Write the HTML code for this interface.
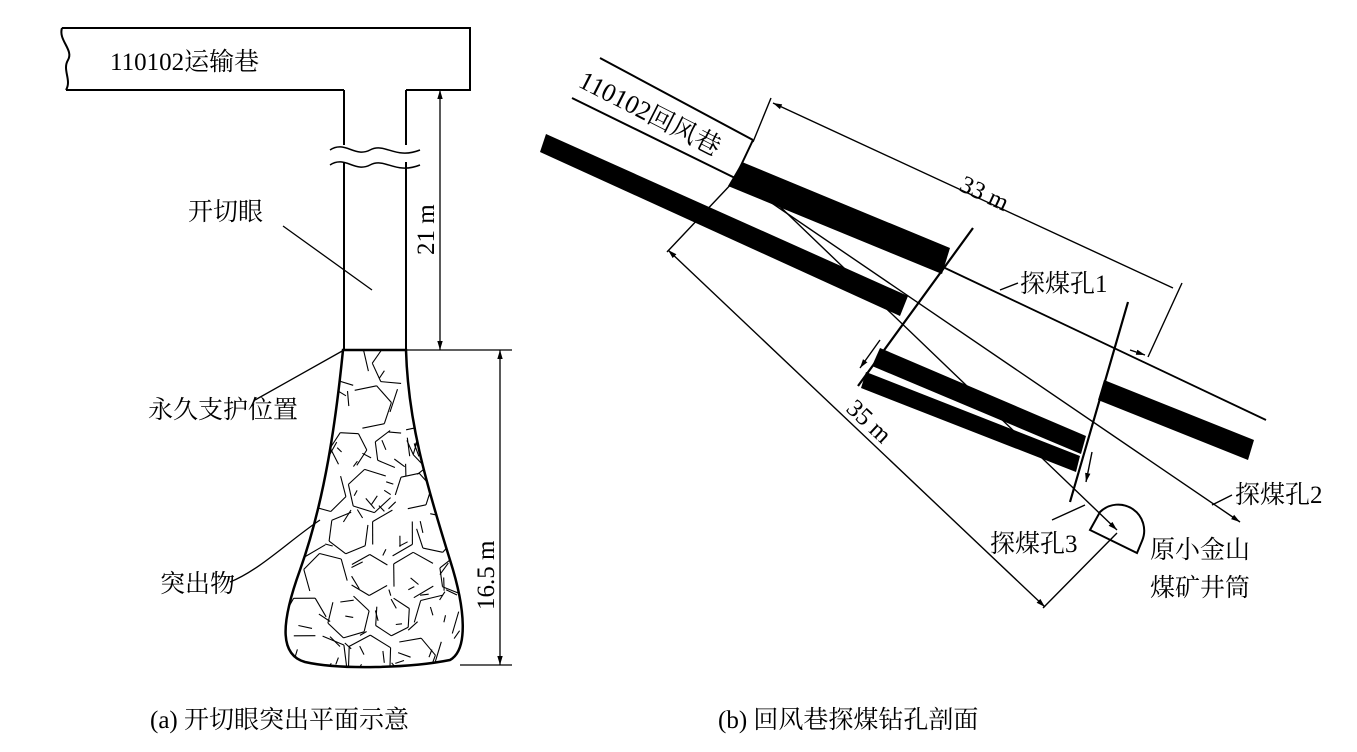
<!DOCTYPE html>
<html><head><meta charset="utf-8"><style>
body{margin:0;background:#fff}
svg text{font-family:"Liberation Serif","Noto Serif CJK SC","Noto Sans CJK SC",serif;font-size:25px;fill:#000}
</style></head><body>
<svg id="s" width="1357" height="747" viewBox="0 0 1357 747" xmlns="http://www.w3.org/2000/svg">
<defs>
<marker id="a" viewBox="0 0 10 10" refX="10" refY="5" markerWidth="9" markerHeight="9" orient="auto-start-reverse" markerUnits="userSpaceOnUse"><path d="M0,2 L10,5 L0,8 z" fill="#000"/></marker>
<clipPath id="fc"><path id="fp" d="M343,350 C336,420 325,500 300,570 C280,625 280,655 305,662 C340,670 410,668 450,660 C468,650 466,610 450,560 C425,480 408,420 406,350 Z"/></clipPath>
</defs>
<g fill="none" stroke="#000" stroke-width="2">
<path d="M62,28 L470,28 L470,90 L406,90 M344,90 L66,90"/>
<path d="M62,28 C58,40 74,50 68,60 C62,70 72,80 66,90"/>
<path d="M344,90 L344,145 M406,90 L406,145 M344,162 L344,350 M406,162 L406,350"/>
<path d="M330,150 C345,140 355,158 370,150 C385,142 395,160 420,150 M330,165 C345,155 355,173 370,165 C385,157 395,175 420,165" stroke-width="1.5"/>
<use href="#fp" stroke-width="2.5"/>
<g id="cr" clip-path="url(#fc)" stroke-width="1.1"></g>
<g stroke-width="1.3">
<path d="M440,90 L440,350" marker-start="url(#a)" marker-end="url(#a)"/>
<path d="M406,350 L512,350 M460,665 L512,665"/>
<path d="M500,350 L500,665" marker-start="url(#a)" marker-end="url(#a)"/>
<path d="M283,226 L372,290 M255,400 L344,350 M230,582 C260,570 290,540 320,520"/>
</g>
<path d="M600,58 L753,140 M572,98 L735,178 M753,140 L735,178" stroke-width="2"/>
<path d="M742,162 L950,248 L942,274 L728,186 Z" fill="#000" stroke="none"/>
<path d="M546,134 L908,296 L900,316 L540,152 Z" fill="#000" stroke="none"/>
<path d="M880,348 L1086,436 L1081,454 L872,366 Z" fill="#000" stroke="none"/>
<path d="M866,372 L1080,456 L1076,472 L861,388 Z" fill="#000" stroke="none"/>
<path d="M1104,380 L1254,440 L1248,460 L1098,400 Z" fill="#000" stroke="none"/>
<path d="M945,268 L1266,420" stroke-width="1.8"/>
<path d="M973,228 L858,386 M1128,302 L1070,502" stroke-width="2.2"/>
<g stroke-width="1.4">
<path d="M880,340 L860,368" marker-end="url(#a)"/>
<path d="M1092,452 L1086,482" marker-end="url(#a)"/>
<path d="M757,193 L1240,522" marker-end="url(#a)"/>
<path d="M770,197 L1117,530" marker-end="url(#a)"/>
<path d="M771,98 L753,142 M1182,283 L1148,357"/>
<path d="M773,103 L1173,288" marker-start="url(#a)"/>
<path d="M1130,350 L1145,355" marker-end="url(#a)"/>
<path d="M735,180 L667,252 M1117,533 L1043,608"/>
<path d="M668,250 L1045,607" marker-start="url(#a)" marker-end="url(#a)"/>
<path d="M1000,290 L1018,283 M1212,505 L1232,495 M1052,520 L1085,505"/>
</g>
<path d="M1100,512 L1090,530 L1137,553 L1142,541 A26,26 0 0 0 1100,512 Z" stroke-width="2"/>
</g>
<text x="110" y="70">110102运输巷</text>
<text x="188" y="220">开切眼</text>
<text x="148" y="418">永久支护位置</text>
<text x="160" y="592">突出物</text>
<text transform="translate(434,255) rotate(-90)">21 m</text>
<text transform="translate(494,610) rotate(-90)">16.5 m</text>
<text x="150" y="728">(a) 开切眼突出平面示意</text>
<text x="718" y="728">(b) 回风巷探煤钻孔剖面</text>
<text transform="translate(577,86) rotate(27)" style="font-size:26px">110102回风巷</text>
<text transform="translate(958,190) rotate(25)">33 m</text>
<text transform="translate(845,410) rotate(43)">35 m</text>
<text x="1020" y="292">探煤孔1</text>
<text x="1235" y="503">探煤孔2</text>
<text x="990" y="552">探煤孔3</text>
<text x="1150" y="558">原小金山</text>
<text x="1150" y="596">煤矿井筒</text>
</svg>
<script>
(function(){var g=document.getElementById('cr');var seed=11;function r(){seed=(seed*16807)%2147483647;return seed/2147483647;}
var s='';
for(var cy=365;cy<680;cy+=42){for(var cx=290+((cy/42)%2)*21;cx<470;cx+=44){
var R=18+r()*6,n=6,o=r();for(var k=0;k<n;k++){if(r()<0.3)continue;var a1=(k+o)/n*2*Math.PI,a2=(k+1+o)/n*2*Math.PI;
s+='<line x1="'+(cx+R*Math.cos(a1)).toFixed(1)+'" y1="'+(cy+R*Math.sin(a1)).toFixed(1)+'" x2="'+(cx+R*Math.cos(a2)).toFixed(1)+'" y2="'+(cy+R*Math.sin(a2)).toFixed(1)+'" stroke="#000"/>';}}}
for(var i=0;i<90;i++){var x=285+r()*185,y=350+r()*320,a=r()*Math.PI,l=6+r()*10;
s+='<line x1="'+x.toFixed(1)+'" y1="'+y.toFixed(1)+'" x2="'+(x+Math.cos(a)*l).toFixed(1)+'" y2="'+(y+Math.sin(a)*l).toFixed(1)+'" stroke="#000"/>';}
g.innerHTML=s;})();
</script>
</body></html>
